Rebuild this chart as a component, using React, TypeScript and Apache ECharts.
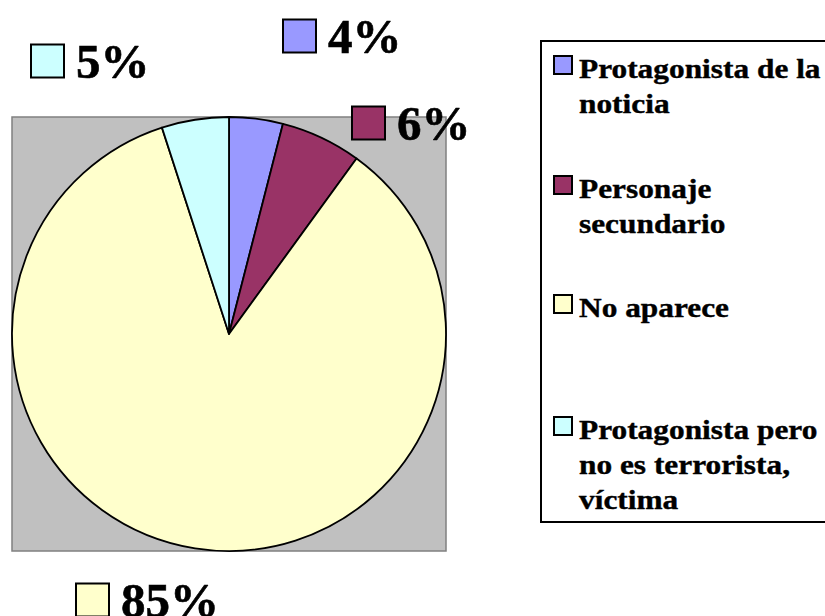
import React, { useEffect, useRef } from "react";
import * as echarts from "echarts";

const categories = [
  "Protagonista de la\nnoticia",
  "Personaje\nsecundario",
  "No aparece",
  "Protagonista pero\nno es terrorista,\nvíctima",
];
const values = [4, 6, 85, 5];
const colors = ["#9999FF", "#993366", "#FFFFCC", "#CCFFFF"];
const valueLabels = ["4%", "6%", "85%", "5%"];

// label anchor positions (left edge of key square, vertical middle)
const labelAnchors = [
  [284, 36],
  [353, 123],
  [77, 600],
  [32, 61],
];
// legend item first-line baselines
const legendBaselines = [76, 196, 315, 437];

const FONT = "Liberation Serif";

export default function App() {
  const ref = useRef<HTMLDivElement>(null);
  useEffect(() => {
    document.body.style.margin = "0";
    const chart = echarts.init(ref.current!, null, { renderer: "svg" });
    const graphics: any[] = [
      {
        type: "rect",
        z: -10,
        shape: { x: 12, y: 117, width: 434, height: 434 },
        style: { fill: "#C0C0C0", stroke: "#808080", lineWidth: 1.5 },
        silent: true,
      },
      {
        type: "rect",
        shape: { x: 541, y: 41, width: 300, height: 481 },
        style: { fill: "#FFFFFF", stroke: "#000000", lineWidth: 2 },
        silent: true,
      },
    ];
    categories.forEach((name, i) => {
      const b = legendBaselines[i];
      graphics.push({
        type: "rect",
        shape: { x: 554, y: b - 20, width: 18, height: 18 },
        style: { fill: colors[i], stroke: "#000000", lineWidth: 2 },
        silent: true,
      });
      graphics.push({
        type: "text",
        x: 579,
        y: b - 25,
        scaleX: 1.12,
        style: {
          text: name,
          fill: "#000000",
          fontFamily: FONT,
          fontWeight: "bold",
          fontSize: 28,
          lineHeight: 35,
          verticalAlign: "top",
          align: "left",
          stroke: "#000000",
          lineWidth: 0.4,
        },
        silent: true,
      });
    });

    chart.setOption({
      animation: false,
      backgroundColor: "#FFFFFF",
      graphic: graphics,
      series: [
        {
          type: "pie",
          center: [229, 334],
          radius: 217,
          startAngle: 90,
          clockwise: true,
          data: categories.map((c, i) => ({
            name: c,
            value: values[i],
            itemStyle: { color: colors[i] },
            label: {
              rich: {
                sq: {
                  width: 31,
                  height: 31,
                  backgroundColor: colors[i],
                  borderColor: "#000000",
                  borderWidth: 2,
                  verticalAlign: "middle",
                },
              },
            },
          })),
          itemStyle: { borderColor: "#000000", borderWidth: 1.8 },
          labelLine: { show: false },
          label: {
            show: true,
            position: "outside",
            formatter: (p: any) => `{sq|}{gap|}{v|${valueLabels[p.dataIndex]}}`,
            rich: {
              gap: { width: 13 },
              v: {
                fontFamily: FONT,
                fontWeight: "bold",
                fontSize: 49,
                color: "#000000",
                verticalAlign: "middle",
                lineHeight: 50,
                textBorderColor: "#000000",
                textBorderWidth: 0.6,
              },
            },
          },
          labelLayout: (params: any) => {
            const a = labelAnchors[params.dataIndex];
            return { x: a[0], y: a[1], align: "left", verticalAlign: "middle" };
          },
        },
      ],
    });
    return () => chart.dispose();
  }, []);
  return <div ref={ref} style={{ width: 825, height: 616 }} />;
}
